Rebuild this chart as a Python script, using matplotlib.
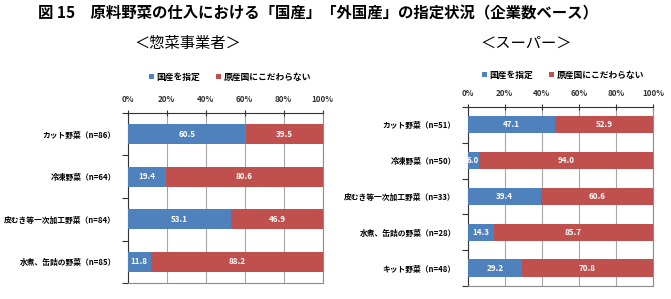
import matplotlib.pyplot as plt
from matplotlib.ticker import FixedLocator

plt.rcParams['font.family'] = ['Noto Sans CJK JP', 'DejaVu Sans']

# data
series_names = ['国産を指定', '原産国にこだわらない']

sozai_cats = ['カット野菜（n=86）', '冷凍野菜（n=64）', '皮むき等一次加工野菜（n=84）', '水煮、缶詰の野菜（n=85）']
sozai_domestic = [60.5, 19.4, 53.1, 11.8]
sozai_any = [39.5, 80.6, 46.9, 88.2]

super_cats = ['カット野菜（n=51）', '冷凍野菜（n=50）', '皮むき等一次加工野菜（n=33）',
              '水煮、缶詰の野菜（n=28）', 'キット野菜（n=48）']
super_domestic = [47.1, 6.0, 39.4, 14.3, 29.2]
super_any = [52.9, 94.0, 60.6, 85.7, 70.8]

BLUE = '#4F81BD'
RED = '#C0504D'

fig = plt.figure(figsize=(6.71, 2.99), dpi=100)

fig.text(0.056, 0.955, '図 15　原料野菜の仕入における「国産」「外国産」の指定状況（企業数ベース）',
         fontsize=11.1, fontweight='bold', va='center', ha='left')
fig.text(0.280, 0.855, '＜惣菜事業者＞', fontsize=11, ha='center', va='center')
fig.text(0.784, 0.855, '＜スーパー＞', fontsize=11, ha='center', va='center')


def draw_panel(rect, cats, dom, oth, bar_h, legend_xy):
    ax = fig.add_axes(rect)
    y = list(range(len(cats)))
    b1 = ax.barh(y, dom, height=bar_h, color=BLUE, zorder=3, label=series_names[0])
    b2 = ax.barh(y, oth, left=dom, height=bar_h, color=RED, zorder=3, label=series_names[1])
    for i in y:
        ax.text(dom[i] / 2, i, f'{dom[i]:.1f}', color='white', fontsize=5.8,
                fontweight='bold', ha='center', va='center', zorder=4)
        ax.text(dom[i] + oth[i] / 2, i, f'{oth[i]:.1f}', color='white', fontsize=5.8,
                fontweight='bold', ha='center', va='center', zorder=4)
    ax.set_xlim(0, 100)
    ax.set_ylim(len(cats) - 0.5, -0.5)
    ax.xaxis.tick_top()
    ax.set_xticks(range(0, 101, 20))
    ax.set_xticklabels([f'{v}%' for v in range(0, 101, 20)], fontsize=5.8, fontweight='bold')
    ax.tick_params(axis='x', direction='inout', length=5, width=0.8, pad=4, colors='#333333')
    ax.set_yticks(y)
    ax.set_yticklabels(cats, fontsize=5.6, fontweight='bold')
    ax.tick_params(axis='y', length=0, pad=8.5)
    ax.yaxis.set_minor_locator(FixedLocator([k - 0.5 for k in range(len(cats) + 1)]))
    ax.tick_params(axis='y', which='minor', direction='out', length=4, width=0.8, colors='#333333')
    ax.grid(axis='x', color='#a6a6a6', linewidth=0.8, zorder=0)
    ax.spines['top'].set_color('#333333')
    ax.spines['left'].set_color('#333333')
    ax.spines['right'].set_color('#8c8c8c')
    ax.spines['bottom'].set_color('#8c8c8c')
    for s in ax.spines.values():
        s.set_linewidth(0.8)
    fig.legend(handles=[b1, b2], loc='center', bbox_to_anchor=legend_xy, ncol=2,
               frameon=False, prop={'size': 6.3, 'weight': 'bold'},
               handlelength=0.6, handleheight=0.6, handletextpad=0.3, columnspacing=1.8)
    return ax


draw_panel([0.1903, 0.0535, 0.2906, 0.5686], sozai_cats, sozai_domestic, sozai_any, 0.48,
           (0.343, 0.742))
draw_panel([0.697, 0.0435, 0.2762, 0.5987], super_cats, super_domestic, super_any, 0.48,
           (0.839, 0.749))

fig.savefig('out.png', dpi=100)
